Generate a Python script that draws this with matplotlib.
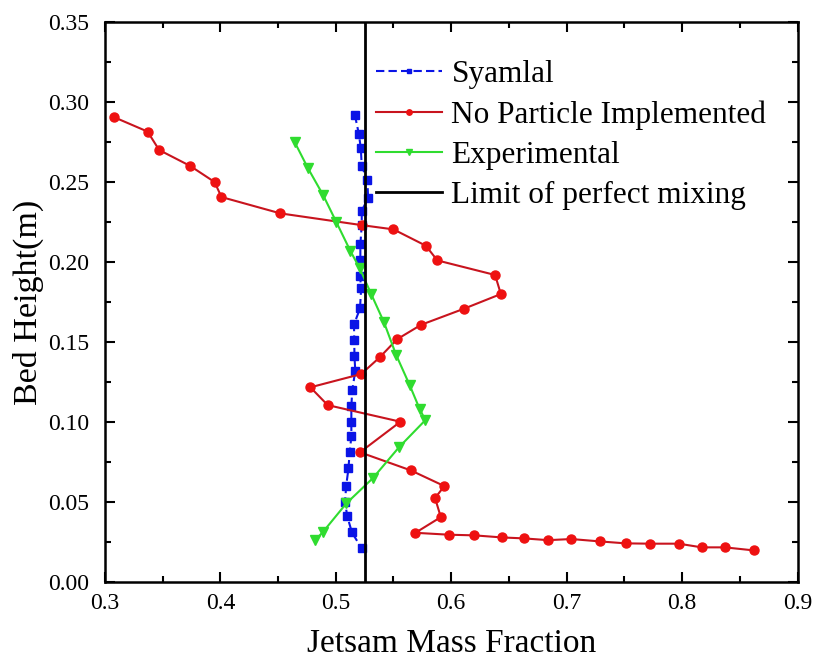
import matplotlib
matplotlib.use("Agg")
import matplotlib.pyplot as plt
from matplotlib.ticker import MultipleLocator, FormatStrFormatter

plt.rcParams['font.family'] = ['Liberation Serif', 'DejaVu Serif']

# Syamlal (blue, dashed, squares)
syamlal_x = [0.5165, 0.520, 0.5217, 0.5225, 0.5274, 0.528, 0.5225, 0.5225, 0.5213, 0.5213,
             0.521, 0.522, 0.521, 0.5158, 0.516, 0.5162, 0.5169, 0.5143, 0.5135, 0.5135,
             0.5135, 0.512, 0.511, 0.509, 0.508, 0.510, 0.514, 0.5225]
syamlal_y = [0.292, 0.280, 0.271, 0.260, 0.251, 0.240, 0.232, 0.223, 0.211, 0.201,
             0.191, 0.184, 0.171, 0.161, 0.151, 0.141, 0.132, 0.120, 0.110, 0.100,
             0.091, 0.081, 0.071, 0.060, 0.050, 0.041, 0.031, 0.021]

# No Particle Implemented (red, circles)
nopart_x = [0.308, 0.337, 0.347, 0.374, 0.395, 0.401, 0.452, 0.523, 0.550, 0.578,
            0.588, 0.638, 0.643, 0.611, 0.574, 0.553, 0.538, 0.522, 0.478, 0.493,
            0.556, 0.521, 0.565, 0.594, 0.586, 0.591, 0.569, 0.598, 0.620, 0.644,
            0.663, 0.684, 0.704, 0.729, 0.751, 0.772, 0.797, 0.817, 0.837, 0.862]
nopart_y = [0.2905, 0.2815, 0.270, 0.260, 0.250, 0.2406, 0.2304, 0.223, 0.2204, 0.2102,
            0.201, 0.1919, 0.180, 0.1708, 0.1608, 0.1517, 0.1404, 0.130, 0.1217, 0.1106,
            0.1002, 0.0811, 0.0698, 0.060, 0.0525, 0.0406, 0.0308, 0.0296, 0.0292, 0.0279,
            0.0273, 0.0262, 0.0269, 0.0254, 0.0242, 0.0240, 0.0240, 0.0217, 0.0217, 0.0198]

# Experimental (green, down triangles)
exp_x = [0.4645, 0.476, 0.489, 0.5006, 0.5126, 0.5208, 0.5308, 0.5418, 0.5522,
         0.564, 0.5727, 0.5776, 0.5547, 0.5322, 0.5092, 0.489, 0.4823]
exp_y = [0.2748, 0.2585, 0.2419, 0.2248, 0.207, 0.196, 0.1798, 0.1623, 0.1421,
         0.1231, 0.1081, 0.1012, 0.0842, 0.065, 0.0492, 0.0314, 0.0263]

perfect_mixing = 0.525

fig = plt.figure(figsize=(8.13, 6.66), dpi=100)
ax = fig.add_axes([0.129, 0.126, 0.852, 0.841])

ax.plot(syamlal_x, syamlal_y, color='#0a14e6', linestyle=(0, (4, 2)), linewidth=1.5,
        marker='s', markersize=5.5, label='Syamlal')
ax.plot(nopart_x, nopart_y, color='#c8141e', linewidth=1.5, marker='o',
        markersize=6.5, markerfacecolor='#ee1111', markeredgecolor='#ee1111',
        label='No Particle Implemented')
ax.plot(exp_x, exp_y, color='#2fdc2f', linewidth=1.5, marker='v', markersize=7,
        label='Experimental')
ax.axvline(perfect_mixing, color='black', linewidth=2, label='Limit of perfect mixing')

ax.set_xlim(0.3, 0.9)
ax.set_ylim(0.0, 0.35)
ax.xaxis.set_major_locator(MultipleLocator(0.1))
ax.xaxis.set_minor_locator(MultipleLocator(0.05))
ax.yaxis.set_major_locator(MultipleLocator(0.05))
ax.yaxis.set_minor_locator(MultipleLocator(0.025))
ax.xaxis.set_major_formatter(FormatStrFormatter('%.1f'))
ax.yaxis.set_major_formatter(FormatStrFormatter('%.2f'))
ax.tick_params(which='both', direction='in', top=True, right=True, width=1.5, labelsize=17)
ax.tick_params(which='major', length=7)
ax.tick_params(which='minor', length=4)
ax.tick_params(axis='x', pad=8)
ax.tick_params(axis='y', pad=11)
for s in ax.spines.values():
    s.set_linewidth(1.8)

ax.set_xlabel('Jetsam Mass Fraction', fontsize=24, labelpad=10)
ax.set_ylabel('Bed Height(m)', fontsize=24.5, labelpad=3)

ax.legend(loc='upper left', bbox_to_anchor=(0.392, 0.932), frameon=False, fontsize=22.5,
          handlelength=2.1, markerscale=0.6, labelspacing=0.36, handletextpad=0.3,
          borderaxespad=0.0, borderpad=0.0)

fig.savefig('out.png', dpi=100)
